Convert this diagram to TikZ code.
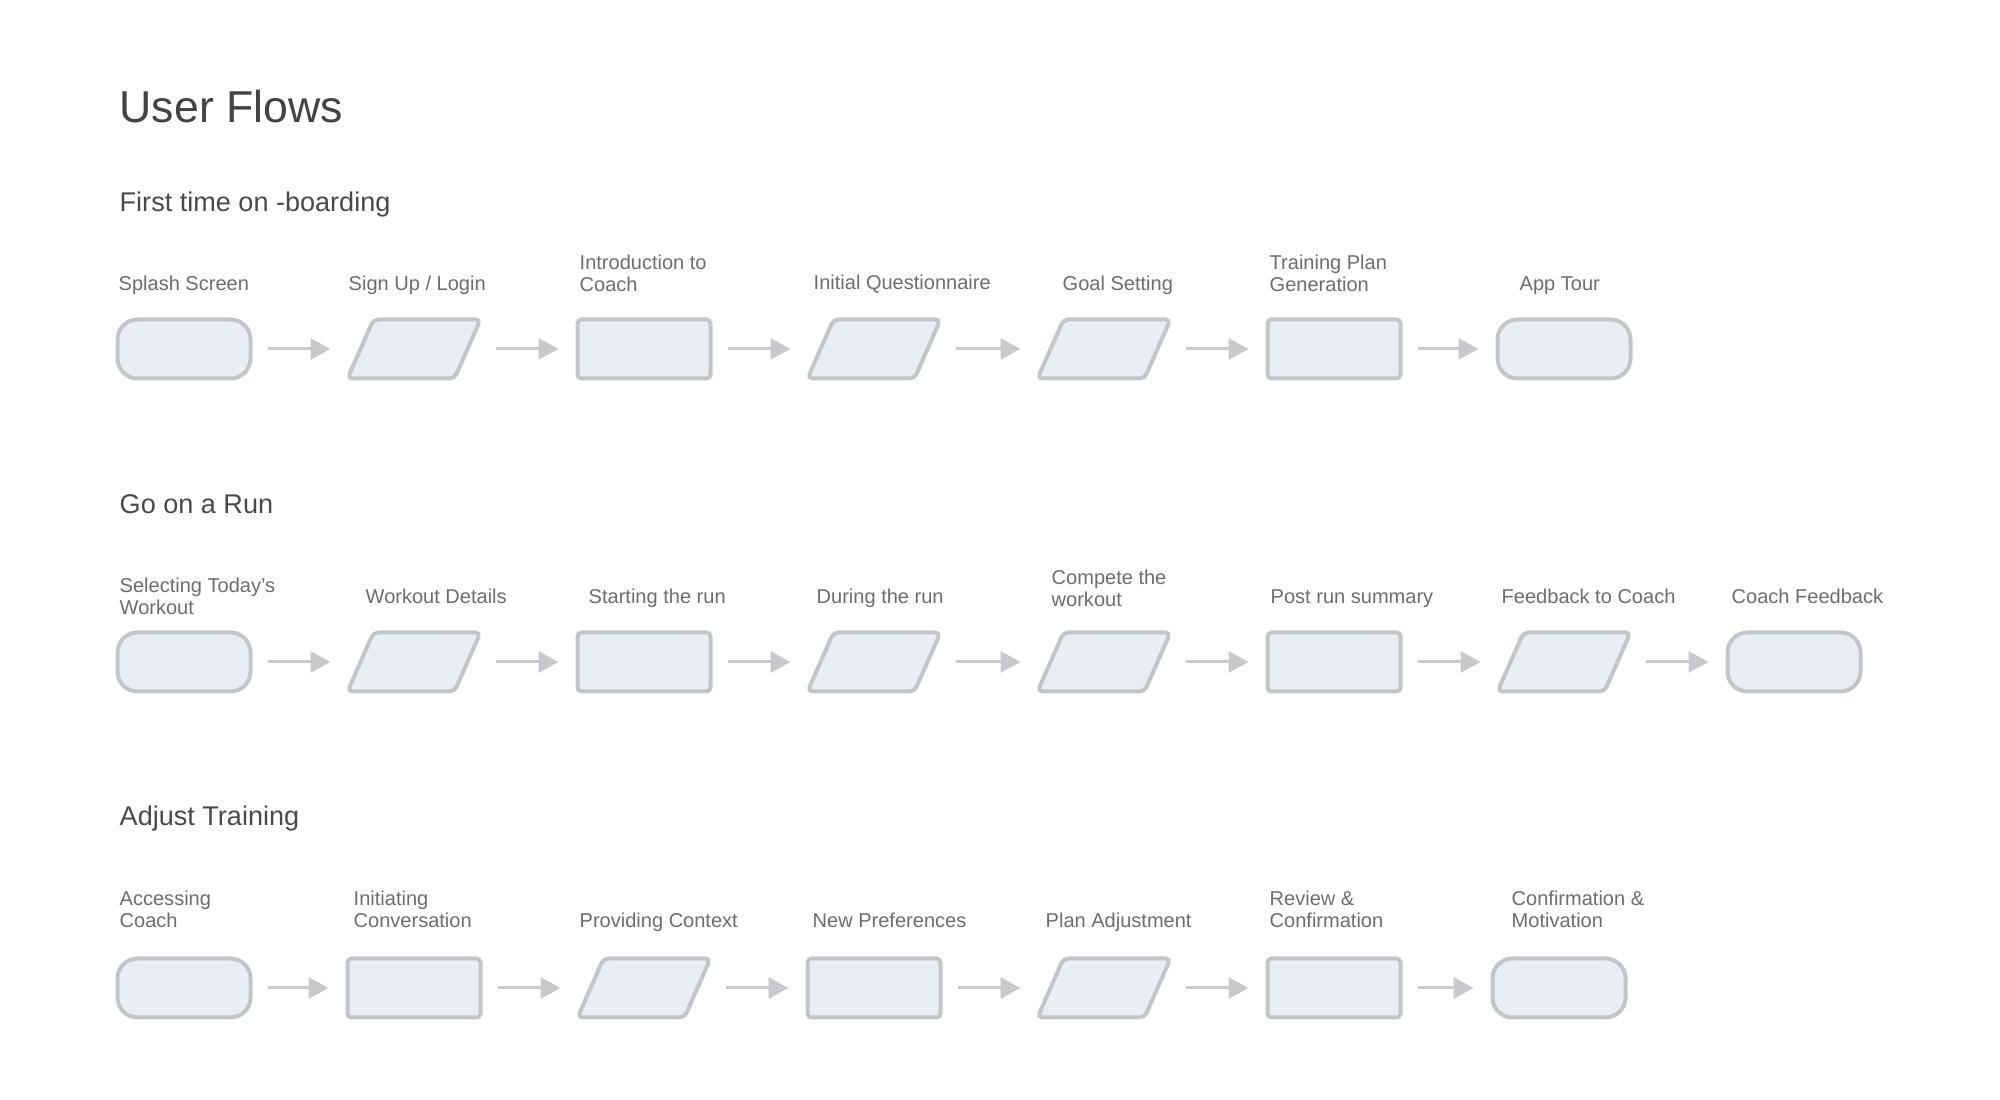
\documentclass[tikz,border=0pt]{standalone}
\usepackage{fontspec}
\setmainfont{Liberation Sans}
\usetikzlibrary{arrows.meta, positioning}

\definecolor{boxfill}{HTML}{E9EEF3}
\definecolor{boxline}{HTML}{C4C5C9}
\definecolor{arrowgray}{HTML}{C8C9CC}
\definecolor{labelgray}{HTML}{6E6E6E}
\definecolor{headgray}{HTML}{4A4A4A}

\tikzset{
  shapebox/.style={draw=boxline, fill=boxfill, line width=0.04cm, minimum width=1.33cm, minimum height=0.59cm, inner sep=0pt},
  terminal/.style={shapebox, rectangle, rounded corners=0.2cm},
  process/.style={shapebox, rectangle, rounded corners=0.04cm},
  inout/.style={shapebox, rectangle, draw=none, fill=none, outer sep=0pt},
  paraline/.style={draw=boxline, fill=boxfill, line width=0.04cm, rounded corners=0.05cm},
  flow/.style={draw=arrowgray, line width=0.03cm, -{Triangle[length=0.2cm, width=0.21cm]}, shorten <=0.15cm, shorten >=0.17cm},
  steplabel/.style={anchor=base west, inner sep=0pt, align=left, text=labelgray, font=\fontsize{5.7}{6.3}\selectfont},
  section/.style={anchor=base west, inner sep=0pt, text=headgray, font=\fontsize{7.7}{9}\selectfont},
}

\begin{document}
\begin{tikzpicture}[node distance=2.3cm, on grid]
    \fill[white] (0,0) rectangle (20,11);
    \useasboundingbox (0,0) rectangle (20,11);

    \node (title) [section, font=\fontsize{12.7}{15}\selectfont, text=headgray!90!black] at (1.19,9.77) {User Flows};

    % first time on-boarding
    \node (onboard) [section] at (1.19,8.88) {First time on -boarding};

    \node (a1) [terminal] at (1.84,7.51) {};
    \node (a2) [inout, right=of a1] {};
    \node (a3) [process, right=of a2] {};
    \node (a4) [inout, right=of a3] {};
    \node (a5) [inout, right=of a4] {};
    \node (a6) [process, right=of a5] {};
    \node (a7) [terminal, right=of a6] {};

    \node (la1) [steplabel] at (1.18,8.09) {Splash Screen};
    \node (la2) [steplabel] at (3.48,8.09) {Sign Up / Login};
    \node (la3) [steplabel] at (5.79,8.08) {Introduction to\\Coach};
    \node (la4) [steplabel] at (8.13,8.10) {Initial Questionnaire};
    \node (la5) [steplabel] at (10.62,8.09) {Goal Setting};
    \node (la6) [steplabel] at (12.69,8.08) {Training Plan\\Generation};
    \node (la7) [steplabel] at (15.19,8.09) {App Tour};

    \draw[flow] (a1) -- (a2);
    \draw[flow] (a2) -- (a3);
    \draw[flow] (a3) -- (a4);
    \draw[flow] (a4) -- (a5);
    \draw[flow] (a5) -- (a6);
    \draw[flow] (a6) -- (a7);

    % go on a run
    \node (run) [section] at (1.19,5.86) {Go on a Run};

    \node (b1) [terminal] at (1.84,4.38) {};
    \node (b2) [inout, right=of b1] {};
    \node (b3) [process, right=of b2] {};
    \node (b4) [inout, right=of b3] {};
    \node (b5) [inout, right=of b4] {};
    \node (b6) [process, right=of b5] {};
    \node (b7) [inout, right=of b6] {};
    \node (b8) [terminal, right=of b7] {};

    \node (lb1) [steplabel] at (1.19,4.85) {Selecting Today’s\\Workout};
    \node (lb2) [steplabel] at (3.65,4.96) {Workout Details};
    \node (lb3) [steplabel] at (5.88,4.96) {Starting the run};
    \node (lb4) [steplabel] at (8.16,4.96) {During the run};
    \node (lb5) [steplabel] at (10.51,4.93) {Compete the\\workout};
    \node (lb6) [steplabel] at (12.70,4.96) {Post run summary};
    \node (lb7) [steplabel] at (15.01,4.96) {Feedback to Coach};
    \node (lb8) [steplabel] at (17.31,4.96) {Coach Feedback};

    \draw[flow] (b1) -- (b2);
    \draw[flow] (b2) -- (b3);
    \draw[flow] (b3) -- (b4);
    \draw[flow] (b4) -- (b5);
    \draw[flow] (b5) -- (b6);
    \draw[flow] (b6) -- (b7);
    \draw[flow] (b7) -- (b8);

    % adjust training
    \node (adjust) [section] at (1.19,2.74) {Adjust Training};

    \node (c1) [terminal] at (1.84,1.12) {};
    \node (c2) [process, right=of c1] {};
    \node (c3) [inout, right=of c2] {};
    \node (c4) [process, right=of c3] {};
    \node (c5) [inout, right=of c4] {};
    \node (c6) [process, right=of c5] {};
    \node (c7) [terminal, right=2.25cm of c6] {};

    \node (lc1) [steplabel] at (1.19,1.72) {Accessing\\Coach};
    \node (lc2) [steplabel] at (3.53,1.72) {Initiating\\Conversation};
    \node (lc3) [steplabel] at (5.79,1.72) {Providing Context};
    \node (lc4) [steplabel] at (8.12,1.72) {New Preferences};
    \node (lc5) [steplabel] at (10.45,1.72) {Plan Adjustment};
    \node (lc6) [steplabel] at (12.69,1.72) {Review \&\\Confirmation};
    \node (lc7) [steplabel] at (15.11,1.72) {Confirmation \&\\Motivation};

    \draw[flow] (c1) -- (c2);
    \draw[flow] (c2) -- (c3);
    \draw[flow] (c3) -- (c4);
    \draw[flow] (c4) -- (c5);
    \draw[flow] (c5) -- (c6);
    \draw[flow] (c6) -- (c7);

    % slanted input/output boxes
    \foreach \n in {a2,a4,a5,b2,b4,b5,b7,c3,c5}
        \draw[paraline] (\n.south west) -- ([xshift=-0.26cm]\n.south east)
            -- (\n.north east) -- ([xshift=0.26cm]\n.north west) -- cycle;
\end{tikzpicture}
\end{document}
